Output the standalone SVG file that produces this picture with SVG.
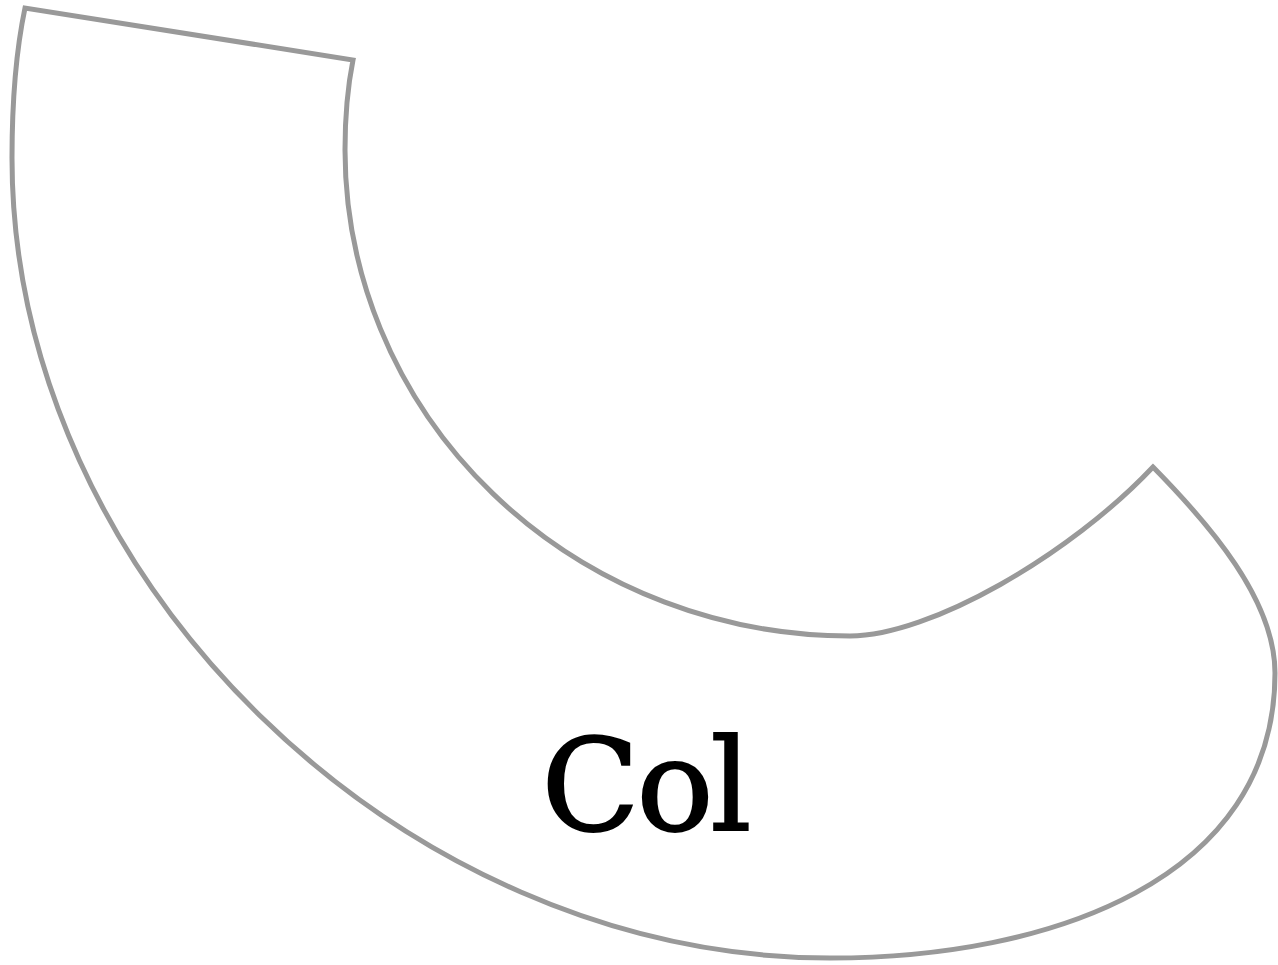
<svg xmlns="http://www.w3.org/2000/svg" width="1278" height="965" viewBox="0 0 1278 965">
<style>
.shape{fill:#fff;stroke:#999;stroke-width:5;stroke-linejoin:miter}
.lbl{font-family:"DejaVu Serif",serif;font-size:128px;fill:#000;stroke:#000;stroke-width:2;text-anchor:middle;letter-spacing:-3px}
</style>
<rect width="1278" height="965" fill="#fff"/>
<g id="col">
<path class="shape" d="M25,8 Q12,70 12,158 C12,578 400,958 830,958 C1050,958 1275,880 1275,673 C1275,600 1210,525 1153,467 C1070,555 930,636 850,636 A505,486 0 0 1 345,150 Q345,100 353,60 Z"/>
<text class="lbl" x="645" y="830">Col</text>
</g>
</svg>
